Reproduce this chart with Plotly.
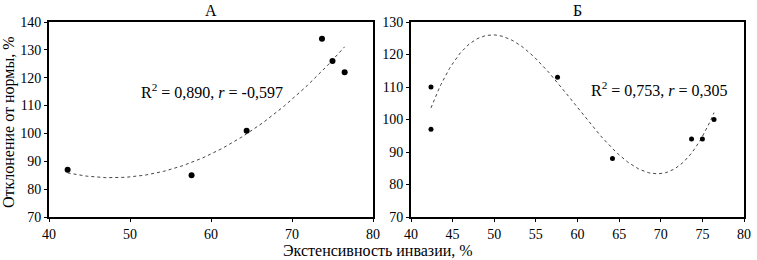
import numpy as np
import plotly.graph_objects as go

# Panel A data
a_x = [42.3, 57.6, 64.4, 73.7, 75.0, 76.5]
a_y = [87, 85, 101, 134, 126, 122]
# Panel B data
b_x = [42.4, 42.4, 57.6, 64.2, 73.7, 75.0, 76.4]
b_y = [110, 97, 113, 88, 94, 94, 100]

a_label = "R<sup>2</sup> = 0,890, <i>r</i> = -0,597"
b_label = "R<sup>2</sup> = 0,753, <i>r</i> = 0,305"
x_title = "Экстенсивность инвазии, %"
y_title = "Отклонение от нормы, %"

W, H = 757, 260
FONT = "Liberation Serif"


def px(x):
    return x / W


def py(y):
    return 1 - y / H


ca = np.polyfit(a_x, a_y, 2)
cb = np.polyfit(b_x, b_y, 3)
xa = np.linspace(min(a_x), max(a_x), 200)
xb = np.linspace(min(b_x), max(b_x), 200)

fig = go.Figure()
fig.add_trace(go.Scatter(x=xa, y=np.polyval(ca, xa), mode="lines",
                         line=dict(color="#444", width=1, dash="dot"), xaxis="x", yaxis="y"))
fig.add_trace(go.Scatter(x=a_x, y=a_y, mode="markers",
                         marker=dict(color="black", size=6), xaxis="x", yaxis="y"))
fig.add_trace(go.Scatter(x=xb, y=np.polyval(cb, xb), mode="lines",
                         line=dict(color="#444", width=1, dash="dot"), xaxis="x2", yaxis="y2"))
fig.add_trace(go.Scatter(x=b_x, y=b_y, mode="markers",
                         marker=dict(color="black", size=5), xaxis="x2", yaxis="y2"))

ydom = [py(217), py(22)]
axstyle = dict(showgrid=False, zeroline=False, showline=True, linecolor="black", linewidth=2,
               mirror=True, ticks="outside", ticklen=3, tickcolor="black", automargin=False,
               tickfont=dict(family=FONT, size=14, color="black"))
ann = dict(xref="paper", yref="paper", showarrow=False, xanchor="center", yanchor="middle")
fig.update_layout(
    width=W, height=H, margin=dict(l=0, r=0, t=0, b=0, pad=0),
    paper_bgcolor="white", plot_bgcolor="white", showlegend=False,
    font=dict(family=FONT, color="black"),
    xaxis=dict(domain=[px(49), px(373)], range=[40, 80], dtick=10, anchor="y", **axstyle),
    yaxis=dict(domain=ydom, range=[70, 140], dtick=10, anchor="x", **axstyle),
    xaxis2=dict(domain=[px(411), px(744)], range=[40, 80], dtick=5, anchor="y2", **axstyle),
    yaxis2=dict(domain=ydom, range=[70, 130], dtick=10, anchor="x2", **axstyle),
    annotations=[
        dict(text="А", x=px(211), y=py(11), font=dict(family=FONT, size=16), **ann),
        dict(text="Б", x=px(577), y=py(11), font=dict(family=FONT, size=16), **ann),
        dict(text=a_label, x=px(212), y=py(91), font=dict(family=FONT, size=16), **ann),
        dict(text=b_label, x=px(659), y=py(89), font=dict(family=FONT, size=16), **ann),
        dict(text=x_title, x=px(378), y=py(250), font=dict(family=FONT, size=16), **ann),
        dict(text=y_title, x=px(9), y=py(122), textangle=-90,
             font=dict(family=FONT, size=16), **ann),
    ],
)
fig.write_html("out.html", config={"displayModeBar": False},
               post_script="document.body.style.margin='0';")
